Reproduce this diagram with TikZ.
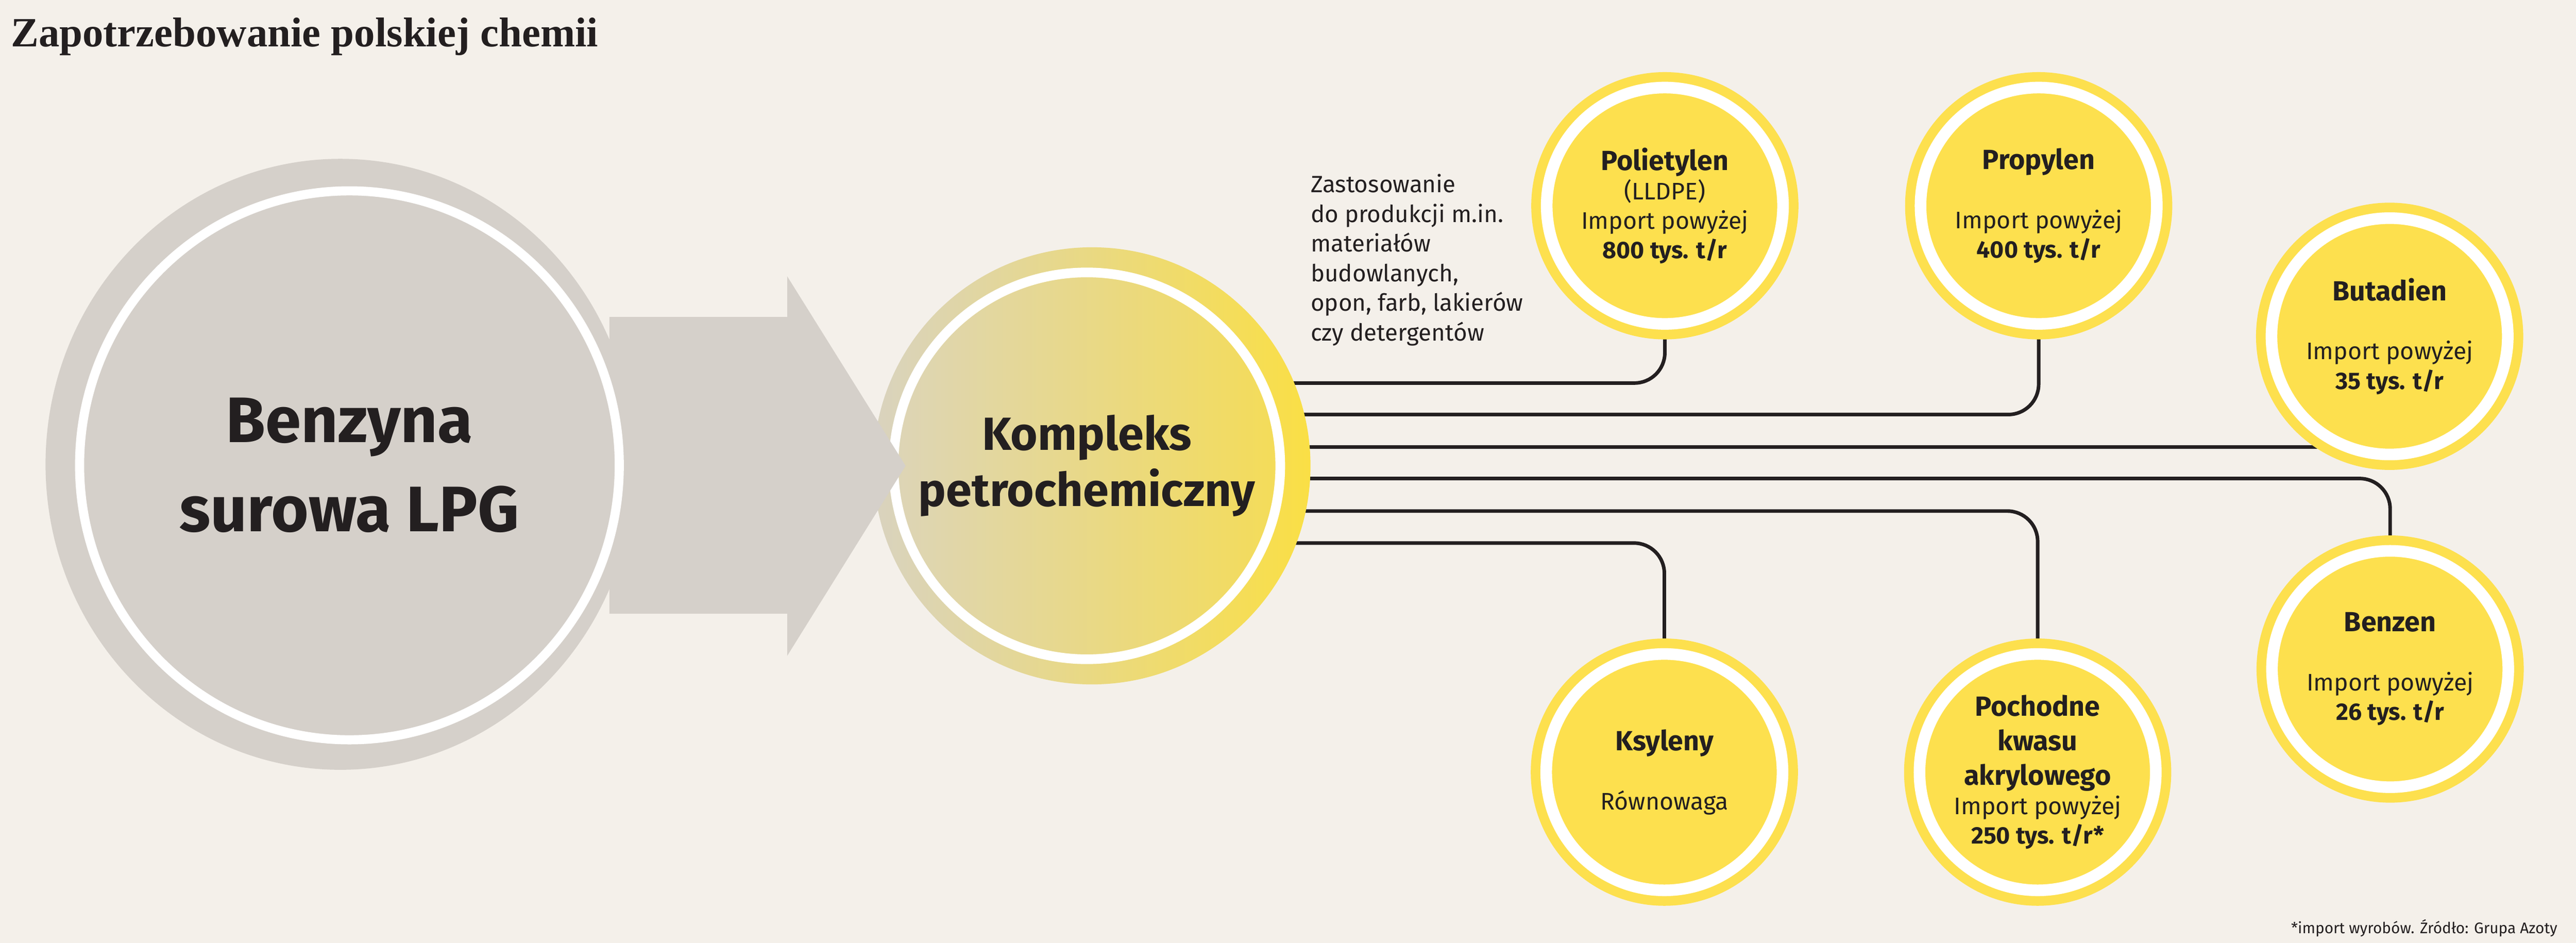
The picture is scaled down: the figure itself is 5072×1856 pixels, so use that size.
\documentclass[tikz,border=0pt]{standalone}
\usepackage{fontspec}
\setmainfont{Fira Sans}
\newfontfamily\titlefont{Liberation Serif}
\usetikzlibrary{positioning,calc,shapes.geometric}

\definecolor{paper}{HTML}{F4F0EA}
\definecolor{stone}{HTML}{D5D0CA}
\definecolor{sun}{HTML}{FDE04E}
\definecolor{ink}{HTML}{231F20}
\definecolor{sandout}{HTML}{D9D3BF}
\definecolor{sunout}{HTML}{FADF45}
\definecolor{sandin}{HTML}{DDD5B7}
\definecolor{sunin}{HTML}{F4DC58}

\pgfdeclarelayer{bg}
\pgfsetlayers{bg,main}

\tikzset{
  prod/.style={circle, fill=sun, draw=sun, line width=5.4pt, double=white, double distance=6.5pt,
    minimum size=4.65cm, inner sep=0pt, align=center, text=ink, font=\fontsize{13.4}{16.5}\selectfont},
  link/.style={draw=ink, line width=2pt, rounded corners=17pt},
}
\newcommand{\prodname}[1]{{\fontsize{15.5}{16.5}\selectfont\bfseries #1}}

\begin{document}
\begin{tikzpicture}[x=0.01cm, y=-0.01cm]
  \begin{pgfonlayer}{bg}
    \fill[paper] (0,0) rectangle (5072,1856);
  \end{pgfonlayer}
  \useasboundingbox (0,0) rectangle (5072,1856);

  % Title
  \node[anchor=base west, inner sep=0, text=ink, font=\titlefont\bfseries\fontsize{23.3}{28}\selectfont] (title) at (21,92) {Zapotrzebowanie polskiej chemii};

  % Kompleks
  \node[circle, minimum size=8.6cm, inner sep=0, left color=sandout, right color=sunout] (kom) at (2150,917) {};
  \node[circle, minimum size=7.61cm, inner sep=0, draw=white, line width=5.4pt, left color=sandin, right color=sunin,
    align=center, text=ink, font=\fontsize{26}{31.6}\selectfont\bfseries] (komin) at (2140,917) {Kompleks\\petrochemiczny};

  % Arrow
  \fill[stone] (1200,624) -- (1550,624) -- (1550,544) -- ($(kom.west)+(64,0)$) -- (1550,1291) -- (1550,1208) -- (1200,1208) -- cycle;

  % Benzyna
  \node[ellipse, minimum width=11.6cm, minimum height=12.02cm, inner sep=0, fill=stone] (lpg) at (670,914) {};
  \node[ellipse, minimum width=10.62cm, minimum height=10.8cm, inner sep=0, draw=white, line width=5.1pt, fill=stone,
    align=center, text=ink, font=\fontsize{36}{50}\selectfont\bfseries] (lpgin) at (688,916) {Benzyna\\surowa LPG};

  % Uses
  \node[anchor=north west, inner sep=0, align=left, text=ink, font=\fontsize{13.2}{16.6}\selectfont] (uses) at (2580,342)
    {Zastosowanie\\do produkcji m.in.\\materiałów\\budowlanych,\\opon, farb, lakierów\\czy detergentów};

  % Products
  \node[prod] (poli) at (3278,405) {\prodname{Polietylen}\\(LLDPE)\\Import powyżej\\\textbf{800 tys. t/r}};
  \node[prod] (prop) at (4014,405) {\prodname{Propylen}\\[16.5pt]Import powyżej\\\textbf{400 tys. t/r}};
  \node[prod] (buta) at (4705,662) {\prodname{Butadien}\\[16.5pt]Import powyżej\\\textbf{35 tys. t/r}};
  \node[prod] (benz) at (4706,1317) {\prodname{Benzen}\\[16.5pt]Import powyżej\\\textbf{26 tys. t/r}};
  \node[prod] (ksyl) at (3277,1520) {\prodname{Ksyleny}\\[16.5pt]Równowaga};
  \node[prod] (poch) at (4012,1520) {\prodname{Pochodne}\\[2.8pt]\prodname{kwasu}\\[2.8pt]\prodname{akrylowego}\\Import powyżej\\\textbf{250 tys. t/r*}};

  % Links
  \begin{pgfonlayer}{bg}
    \foreach \dy/\n in {-163/poli.south, -101/prop.south, -37/buta.center, 25/benz.north, 89/poch.north, 152/ksyl.north}
      \draw[link] ($(kom.center)+(0,\dy)$) -| (\n);
  \end{pgfonlayer}

  % Source
  \node[anchor=base east, inner sep=0, text=ink, font=\fontsize{8.6}{10}\selectfont] (src) at (5036,1838) {*import wyrobów. Źródło: Grupa Azoty};
\end{tikzpicture}
\end{document}
